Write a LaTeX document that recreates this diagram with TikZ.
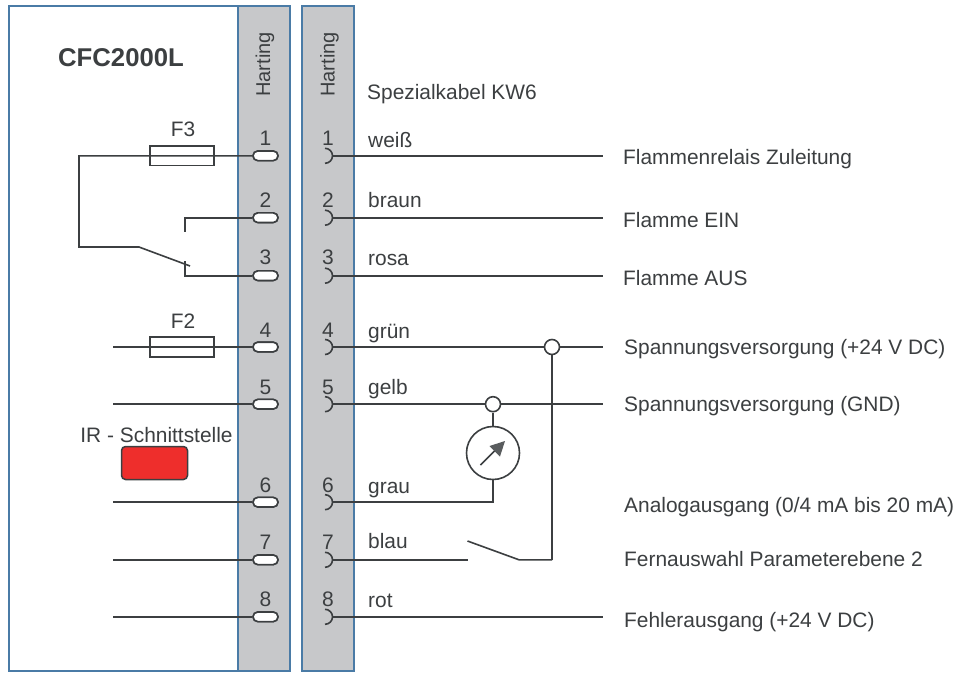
\documentclass[tikz,border=0pt]{standalone}
\usepackage{fontspec}
\setmainfont{Liberation Sans}
\definecolor{frame}{HTML}{4A7BA6}
\definecolor{strip}{HTML}{C7C8CA}
\definecolor{ink}{HTML}{3C3F41}
\definecolor{irred}{HTML}{EE2E2C}
\tikzset{
  x=1pt,y=-1pt,
  wire/.style={draw=ink,line width=1.6pt},
  boxframe/.style={draw=frame,line width=2pt},
  stripbox/.style={boxframe,fill=strip},
  fuse/.style={draw=ink,line width=1.6pt,minimum width=63.5pt,minimum height=19.5pt,inner sep=0pt},
  pin/.style={draw=ink,line width=1.6pt,fill=white,rounded corners=4.8pt,minimum width=25pt,minimum height=9.6pt,inner sep=0pt},
  junct/.style={circle,draw=ink,line width=1.6pt,fill=white,minimum size=15pt,inner sep=0pt},
  lbl/.style={text=ink,font=\fontsize{20.9}{23}\selectfont,inner sep=0pt},
  num/.style={text=ink,font=\fontsize{21}{23}\selectfont,inner sep=0pt},
  txt/.style={lbl,anchor=west},
  rot/.style={text=ink,font=\fontsize{20}{22}\selectfont,inner sep=0pt,rotate=90},
}
\begin{document}
\begin{tikzpicture}
\useasboundingbox (0,0) rectangle (957,672);
\path[fill=white] (0,0) rectangle (957,672);
\draw[boxframe] (9,6) rectangle (238,671);
\draw[stripbox] (238,6) rectangle (290,671);
\draw[stripbox] (302,6) rectangle (354,671);

\node[text=ink,font=\bfseries\fontsize{25.7}{28}\selectfont,inner sep=0] (title) at (121,58) {CFC2000L};
\node[rot] (h1) at (265,64.5) {Harting};
\node[rot] (h2) at (329.5,64.5) {Harting};
\node[txt] (kw) at (367,94) {Spezialkabel KW6};

% pins and sockets
\foreach \n/\y/\ny in {1/155.8/138,2/217.7/200,3/275.7/257,4/347/330,5/404.2/387,6/502.2/485,7/559.8/542,8/616.8/599}{
  \node[pin] (p\n) at (265.5,\y) {};
  \node[num] (pn\n) at (265.5,\ny) {\n};
  \node[num] (sn\n) at (328,\ny) {\n};
  \coordinate (s\n) at (332.5,\y);
  \draw[wire] (325,\y-7.5) arc[start angle=-90,end angle=90,radius=7.5];
}
% left wires
\coordinate (c1) at (79,155.8);
\coordinate (c2) at (79,247);
\coordinate (c3) at (139,247);
\coordinate (c4) at (190,266);
\coordinate (t3) at (185,275.7);
\coordinate (t3u) at (185,261);
\coordinate (t2) at (185,217.7);
\coordinate (t2d) at (185,232);
\draw[wire] (p1) -- (c1) -- (c2) -- (c3) -- (c4);
\draw[wire] (p2) -- (t2) -- (t2d);
\draw[wire] (p3) -- (t3) -- (t3u);
\foreach \n/\y in {4/347,5/404.2,6/502.2,7/559.8,8/616.8}{
  \coordinate (l\n) at (113,\y);
  \draw[wire] (l\n) -- (p\n);
}
\foreach \n in {1,...,8}{\node[pin] at (p\n) {};}
\node[fuse] (f3) at (182,155.8) {};
\node[fuse] (f2) at (182,347) {};
\node[lbl] (f3l) at (183,129) {F3};
\node[lbl] (f2l) at (183,321) {F2};
\node[lbl] (ir) at (156.5,435) {IR - Schnittstelle};
\node[draw=ink,line width=1.5pt,fill=irred,rounded corners=4pt,minimum width=66pt,minimum height=33pt,inner sep=0] (irb) at (154.5,463) {};

% right wires
\foreach \n/\y in {1/155.8,2/217.7,3/275.7,4/347,5/404.2,8/616.8}{
  \coordinate (e\n) at (603,\y);
  \draw[wire] (s\n) -- (e\n);
}
\coordinate (b5) at (552,347);
\draw[wire] (b5) -- (552,559.8);
\node[junct] (j4) at (552,347) {};
\node[junct] (j5) at (493,404.2) {};
\node[circle,draw=ink,line width=1.6pt,fill=white,minimum size=53pt,inner sep=0] (m) at (493,453) {};
\coordinate (g) at (493,502.2);
\draw[wire] (s6) -- (g) -- (m.south);
\draw[wire] (m.north) -- (j5.south);
\draw[ink,line width=1.5pt] (480.5,465) -- (497,448.5);
\fill[ink!85!white] (505,441) -- (489.5,446) -- (500,456.5) -- cycle;
\coordinate (b1) at (467.5,559.8);
\coordinate (b2) at (467.5,541);
\coordinate (b3) at (519,559.8);
\coordinate (b4) at (552,559.8);
\draw[wire] (s7) -- (b1);
\draw[wire] (b2) -- (b3) -- (b4);

% cable colours
\foreach \i/\t/\y in {1/weiß/141.5,2/braun/201,3/rosa/259,4/grün/332,5/gelb/388,6/grau/487,7/blau/542,8/rot/601}{
  \node[txt,anchor=base west] (cc\i) at (368,\y+6) {\t};
}
% terminals
\foreach \i/\t/\x/\y in {1/Flammenrelais Zuleitung/623/159,2/Flamme EIN/623/220,3/Flamme AUS/623/278,4/Spannungsversorgung (+24 V DC)/624/349,5/Spannungsversorgung (GND)/624/406,6/{Analogausgang (0/4 mA bis 20 mA)}/624/507,7/Fernauswahl Parameterebene 2/624/559,8/Fehlerausgang (+24 V DC)/624/622}{
  \node[txt] (tl\i) at (\x,\y) {\t};
}
\end{tikzpicture}
\end{document}
